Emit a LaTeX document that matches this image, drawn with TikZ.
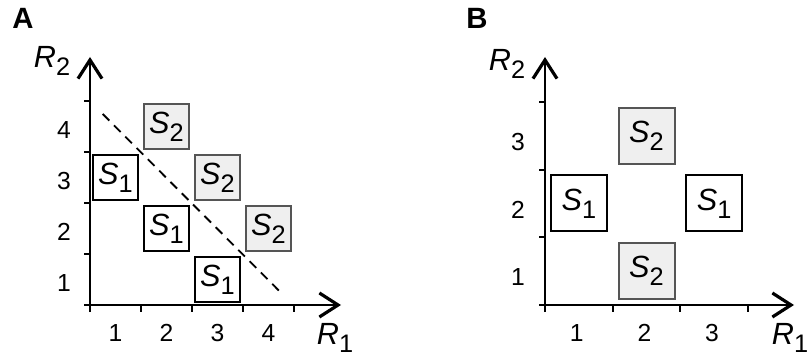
\documentclass[tikz,border=0pt]{standalone}
\usepackage{fontspec}
\setmainfont{Liberation Sans}
\usetikzlibrary{arrows.meta}
\definecolor{sgray}{HTML}{EFEFEF}
\definecolor{sborder}{HTML}{555555}
\newcommand{\sublab}[2]{\textit{#1}\raisebox{-0.26em}{\fontsize{19}{19}\selectfont #2}}
\begin{document}
\begin{tikzpicture}[x=0.75pt,y=-0.75pt,
  axis/.style={line width=1.7pt,-{Straight Barb[length=14pt,width=18pt,line width=2.4pt]}},
  tickmark/.style={line width=1.4pt},
  num/.style={font=\fontsize{18.5}{19}\selectfont, inner sep=0pt},
  axlab/.style={font=\fontsize{23}{23}\selectfont, inner sep=0pt},
  sbox/.style={draw, line width=1.5pt, minimum size=#1, inner sep=0pt, font=\fontsize{23}{23}\selectfont},
  sone/.style={sbox=#1, fill=white},
  stwo/.style={sbox=#1, draw=sborder, fill=sgray},
  divide/.style={line width=1.4pt, dash pattern=on 7pt off 5pt},
  panel/.style={font=\fontsize{22}{22}\selectfont\bfseries, inner sep=0pt}]
\useasboundingbox (0,0) rectangle (807,356);

% ---------- Panel A ----------
\node[panel] (pA) at (23,18) {A};
\coordinate (xA0) at (84,305);
\coordinate (xA1) at (341,305);
\coordinate (yA0) at (90,312);
\coordinate (yA1) at (90,57);
\draw[axis] (xA0) -- (xA1);
\draw[axis] (yA0) -- (yA1);
\foreach \i in {1,...,4} {
  \coordinate (txA\i) at (90+51*\i,305);
  \draw[tickmark] (txA\i) -- ++(0,7);
  \coordinate (tyA\i) at (90,305-51*\i);
  \draw[tickmark] (tyA\i) -- ++(-6,0);
  \node[num] (nxA\i) at (90+51*\i-25.5,333) {\i};
  \node[num] (nyA\i) at (64,305-51*\i+29) {\i};
}
\node[axlab] (r1A) at (335,337.5) {\sublab{R}{1}};
\node[axlab] (r2A) at (52,61) {\sublab{R}{2}};

\coordinate (dA0) at (102.7,114);
\coordinate (dA1) at (283.3,295);
\draw[divide] (dA0) -- (dA1);

\node[sone=33.75pt] (a13) at (115.5,177.5) {\sublab{S}{1}};
\node[sone=33.75pt] (a22) at (166.5,228.5) {\sublab{S}{1}};
\node[sone=33.75pt] (a31) at (217.5,279.5) {\sublab{S}{1}};
\node[stwo=33.75pt] (a24) at (166.5,126.5) {\sublab{S}{2}};
\node[stwo=33.75pt] (a33) at (217.5,177.5) {\sublab{S}{2}};
\node[stwo=33.75pt] (a42) at (268.5,228.5) {\sublab{S}{2}};

% ---------- Panel B ----------
\node[panel] (pB) at (477,18) {B};
\coordinate (xB0) at (539,305);
\coordinate (xB1) at (794,305);
\coordinate (yB0) at (545,312);
\coordinate (yB1) at (545,57);
\draw[axis] (xB0) -- (xB1);
\draw[axis] (yB0) -- (yB1);
\foreach \i in {1,2,3} {
  \coordinate (txB\i) at (545+67.7*\i,305);
  \draw[tickmark] (txB\i) -- ++(0,7);
  \coordinate (tyB\i) at (545,305-67.7*\i);
  \draw[tickmark] (tyB\i) -- ++(-6,0);
  \node[num] (nxB\i) at (545+67.7*\i-36,333) {\i};
  \node[num] (nyB\i) at (518,305-67.7*\i+40) {\i};
}
\node[axlab] (r1B) at (790,337.5) {\sublab{R}{1}};
\node[axlab] (r2B) at (507,64) {\sublab{R}{2}};

\node[sone=42pt] (b12) at (578.9,203.5) {\sublab{S}{1}};
\node[sone=42pt] (b32) at (714.2,203.5) {\sublab{S}{1}};
\node[stwo=42pt] (b23) at (646.5,135.8) {\sublab{S}{2}};
\node[stwo=42pt] (b21) at (646.5,271.2) {\sublab{S}{2}};
\end{tikzpicture}
\end{document}
